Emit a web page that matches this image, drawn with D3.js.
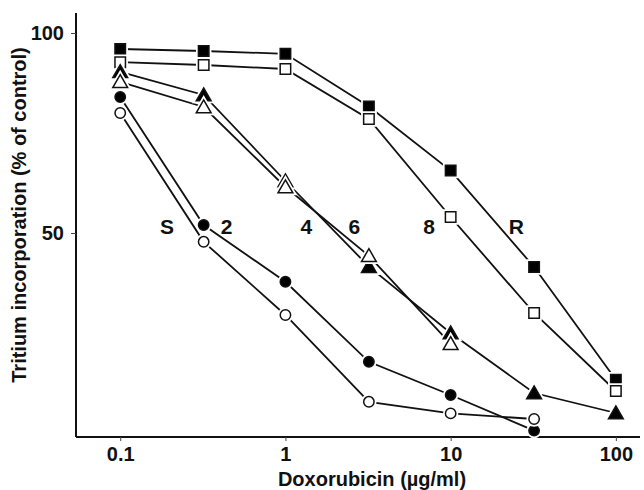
<!DOCTYPE html>
<html>
<head>
<meta charset="utf-8">
<script src="https://cdn.jsdelivr.net/npm/d3@7"></script>
<style>
  body { margin: 0; background: #fff; }
  text { font-family: "Liberation Sans", Arial, sans-serif; font-weight: bold; }
</style>
</head>
<body>
<script>
// doses (µg/ml), half-log steps
var doses = [0.1, 0.32, 1, 3.2, 10, 32, 100];

var seriesR    = [96, 95.5, 94.8, 81.6, 65.6, 41.5, 13.3];    // filled square
var series8    = [92.7, 92, 91, 78.5, 54, 30, 10.5];          // open square
var series6    = [90.3, 84.5, 63, 41.6, 25, 10, 5];           // filled triangle
var series4    = [87.8, 81.5, 61.5, 44.3, 22.3];              // open triangle
var series2    = [84, 52, 37.8, 17.8, 9.5, 0.6];              // filled circle
var seriesS    = [80, 47.8, 29.5, 7.8, 4.9, 3.5];             // open circle

var xTicks = [0.1, 1, 10, 100];
var xTickLabels = ["0.1", "1", "10", "100"];
var yTicks = [50, 100];

var lineLabels = ["S", "2", "4", "6", "8", "R"];
var lineLabelX = [0.192, 0.44, 1.34, 2.61, 7.4, 25];
var lineLabelY = 50;

var W = 644, H = 490;
var svg = d3.select("body").append("svg").attr("width", W).attr("height", H);

var x = d3.scaleLog().domain([0.054, 140]).range([76, 640]);
var y = d3.scaleLinear().domain([-1, 105]).range([437, 13]);

// axes
var xAxis = d3.axisBottom(x).tickValues(xTicks)
    .tickFormat(function (d, i) { return xTickLabels[i]; })
    .tickSize(4).tickPadding(6);
var gx = svg.append("g").attr("transform", "translate(0," + y(-1) + ")").call(xAxis);
var yAxis = d3.axisLeft(y).tickValues(yTicks).tickSize(5).tickPadding(7);
var gy = svg.append("g").attr("transform", "translate(" + x(0.054) + ",0)").call(yAxis);

[gx, gy].forEach(function (g) {
    g.select(".domain").attr("stroke", "#111").attr("stroke-width", 2);
    g.selectAll(".tick line").attr("stroke", "#444").attr("stroke-width", 1);
    g.selectAll(".tick text").attr("font-size", 20).attr("fill", "#111")
        .style("font-family", "'Liberation Sans', Arial, sans-serif").style("font-weight", "bold");
});
gx.select(".domain").attr("d", "M" + x(0.054) + ",0H" + x(140));
gy.select(".domain").attr("d", "M0," + y(105) + "V" + y(-1));

svg.append("text")
    .attr("x", 372).attr("y", 486)
    .attr("text-anchor", "middle").attr("font-size", 20).attr("fill", "#111")
    .text("Doxorubicin (µg/ml)");

svg.append("text")
    .attr("transform", "translate(26,215) rotate(-90)")
    .attr("text-anchor", "middle").attr("font-size", 20).attr("fill", "#111")
    .text("Tritium incorporation (% of control)");

var series = [
    { vals: seriesR, shape: "square", fill: "#000" },
    { vals: series8, shape: "square", fill: "#fff" },
    { vals: series6, shape: "triangle", fill: "#000" },
    { vals: series4, shape: "triangle", fill: "#fff" },
    { vals: series2, shape: "circle", fill: "#000" },
    { vals: seriesS, shape: "circle", fill: "#fff" }
];

var line = d3.line()
    .x(function (d, i) { return x(doses[i]); })
    .y(function (d) { return y(d); });

series.forEach(function (s) {
    svg.append("path").datum(s.vals)
        .attr("d", line)
        .attr("fill", "none").attr("stroke", "#111").attr("stroke-width", 1.8);
});

var symSize = { square: 110, triangle: 95, circle: 85 };
var symType = { square: d3.symbolSquare, triangle: d3.symbolTriangle, circle: d3.symbolCircle };

series.forEach(function (s) {
    var sym = d3.symbol().type(symType[s.shape]).size(symSize[s.shape]);
    var g = svg.append("g");
    s.vals.forEach(function (v, i) {
        var cx = x(doses[i]), cy = y(v);
        var dy = s.shape === "triangle" ? 1.5 : 0;
        g.append("path").attr("d", sym())
            .attr("transform", "translate(" + cx + "," + (cy + dy) + ")")
            .attr("fill", "none").attr("stroke", "#fff").attr("stroke-width", 5);
        g.append("path").attr("d", sym())
            .attr("transform", "translate(" + cx + "," + (cy + dy) + ")")
            .attr("fill", s.fill).attr("stroke", "#111").attr("stroke-width", 1.5);
    });
});

svg.selectAll(".lbl").data(lineLabels).enter().append("text")
    .attr("class", "lbl")
    .attr("x", function (d, i) { return x(lineLabelX[i]); })
    .attr("y", y(lineLabelY) + 1)
    .attr("text-anchor", "middle").attr("font-size", 21).attr("fill", "#111")
    .text(function (d) { return d; });
</script>
</body>
</html>
